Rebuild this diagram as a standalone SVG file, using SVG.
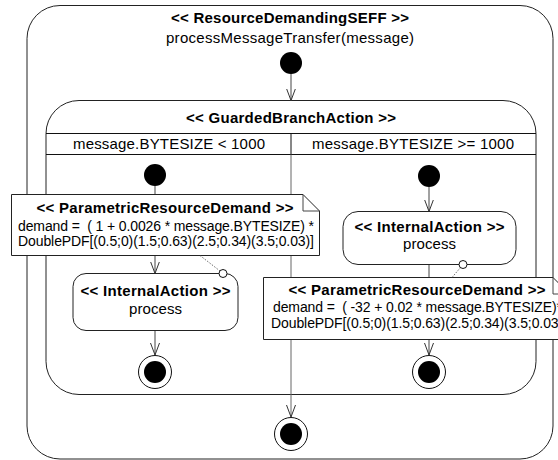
<svg xmlns="http://www.w3.org/2000/svg" width="558" height="460" viewBox="0 0 558 460">
<style>
text{font-family:"Liberation Sans",Arial,sans-serif;font-size:15px;fill:#000;white-space:pre}
.b{font-weight:bold}
.s{font-size:14px}
.box{fill:#fff;stroke:#222;stroke-width:1}
.ln{fill:none;stroke:#444;stroke-width:1}
.lane{fill:none;stroke:#666;stroke-width:1}
.dot{fill:none;stroke:#444;stroke-width:0.8;stroke-dasharray:1.5,1.5}
.start{fill:#000}
.ring{fill:#fff;stroke:#111;stroke-width:1}
</style>
<defs>
<marker id="arr" markerUnits="userSpaceOnUse" markerWidth="14" markerHeight="12" refX="12" refY="5" orient="auto">
<path d="M0,0.5 L12,5 L0,9.5" fill="none" stroke="#333" stroke-width="1"/>
</marker>
</defs>

<g id="seff">
<rect class="box" x="27" y="5.5" width="526" height="453.5" rx="33" ry="33"/>
<text class="b" x="290" y="23" text-anchor="middle" textLength="238" lengthAdjust="spacing">&lt;&lt; ResourceDemandingSEFF &gt;&gt;</text>
<text x="290" y="43" text-anchor="middle" textLength="248" lengthAdjust="spacing">processMessageTransfer(message)</text>
</g>

<g id="gba">
<rect class="box" x="46" y="100.5" width="490" height="294" rx="33" ry="33"/>
<text class="b" x="291" y="123" text-anchor="middle" textLength="210" lengthAdjust="spacing">&lt;&lt; GuardedBranchAction &gt;&gt;</text>
<path d="M46,133.5 H536 M46,154.5 H536 M291,133.5 V154.5" fill="none" stroke="#111" stroke-width="1"/>
<text x="169" y="149" text-anchor="middle" textLength="192" lengthAdjust="spacing">message.BYTESIZE &lt; 1000</text>
<text x="413" y="149" text-anchor="middle" textLength="202" lengthAdjust="spacing">message.BYTESIZE &gt;= 1000</text>
</g>

<g id="connectors">
<line class="ln" x1="291" y1="74" x2="291" y2="100.5" marker-end="url(#arr)"/>
<line class="lane" x1="291" y1="154.5" x2="291" y2="417" marker-end="url(#arr)"/>
<line class="ln" x1="155" y1="186" x2="155" y2="273.5" marker-end="url(#arr)"/>
<line class="ln" x1="155" y1="330.5" x2="155" y2="355" marker-end="url(#arr)"/>
<line class="ln" x1="429" y1="187" x2="429" y2="211.5" marker-end="url(#arr)"/>
<line class="ln" x1="429" y1="264.5" x2="429" y2="278"/>
<line class="ln" x1="429" y1="339.5" x2="429" y2="355" marker-end="url(#arr)"/>
</g>

<g id="start_outer"><circle class="start" cx="291" cy="63" r="11"/></g>
<g id="stop_outer"><circle class="ring" cx="291" cy="434" r="16.5"/><circle class="start" cx="291" cy="434" r="11"/></g>

<g id="start_left"><circle class="start" cx="155" cy="175" r="11"/></g>
<g id="ia_left">
<rect class="box" x="73" y="273.5" width="165" height="57" rx="13" ry="13"/>
<text class="b" x="155.5" y="296" text-anchor="middle" textLength="150" lengthAdjust="spacing">&lt;&lt; InternalAction &gt;&gt;</text>
<text x="155.5" y="314" text-anchor="middle" textLength="53" lengthAdjust="spacing">process</text>
</g>
<g id="note_left">
<path class="box" d="M11.5,194.5 H303 L319.5,211 V255.5 H11.5 Z"/>
<path class="ln" d="M303,194.5 V211 H319.5"/>
<text class="b" x="165" y="213" text-anchor="middle" textLength="257" lengthAdjust="spacing">&lt;&lt; ParametricResourceDemand &gt;&gt;</text>
<text class="s" x="166" y="230.5" text-anchor="middle" textLength="296" lengthAdjust="spacing">demand =  ( 1 + 0.0026 * message.BYTESIZE) *</text>
<text class="s" x="166" y="246" text-anchor="middle" textLength="296" lengthAdjust="spacing">DoublePDF[(0.5;0)(1.5;0.63)(2.5;0.34)(3.5;0.03)]</text>
<line class="dot" x1="200" y1="255.5" x2="220" y2="271"/>
<circle class="ring" cx="223" cy="273.5" r="4"/>
</g>
<g id="stop_left"><circle class="ring" cx="155" cy="372" r="16.5"/><circle class="start" cx="155" cy="372" r="11"/></g>

<g id="start_right"><circle class="start" cx="429" cy="176" r="11"/></g>
<g id="ia_right">
<rect class="box" x="343" y="211.5" width="173" height="53" rx="15" ry="15"/>
<text class="b" x="429.5" y="232" text-anchor="middle" textLength="150" lengthAdjust="spacing">&lt;&lt; InternalAction &gt;&gt;</text>
<text x="429.5" y="249" text-anchor="middle" textLength="53" lengthAdjust="spacing">process</text>
</g>
<g id="note_right">
<path class="box" d="M263.5,277.5 H553 L569.5,294 V339.5 H263.5 Z"/>
<path class="ln" d="M553,277.5 V294 H569.5"/>
<text class="b" x="417" y="295" text-anchor="middle" textLength="257" lengthAdjust="spacing">&lt;&lt; ParametricResourceDemand &gt;&gt;</text>
<text class="s" x="417.5" y="311.5" text-anchor="middle" textLength="289" lengthAdjust="spacing">demand =  ( -32 + 0.02 * message.BYTESIZE)*</text>
<text class="s" x="419" y="328" text-anchor="middle" textLength="296" lengthAdjust="spacing">DoublePDF[(0.5;0)(1.5;0.63)(2.5;0.34)(3.5;0.03)]</text>
<line class="dot" x1="452" y1="277.5" x2="460.5" y2="267.5"/>
<circle class="ring" cx="463" cy="264.5" r="4"/>
</g>
<g id="stop_right"><circle class="ring" cx="429" cy="372" r="16.5"/><circle class="start" cx="429" cy="372" r="11"/></g>
</svg>
